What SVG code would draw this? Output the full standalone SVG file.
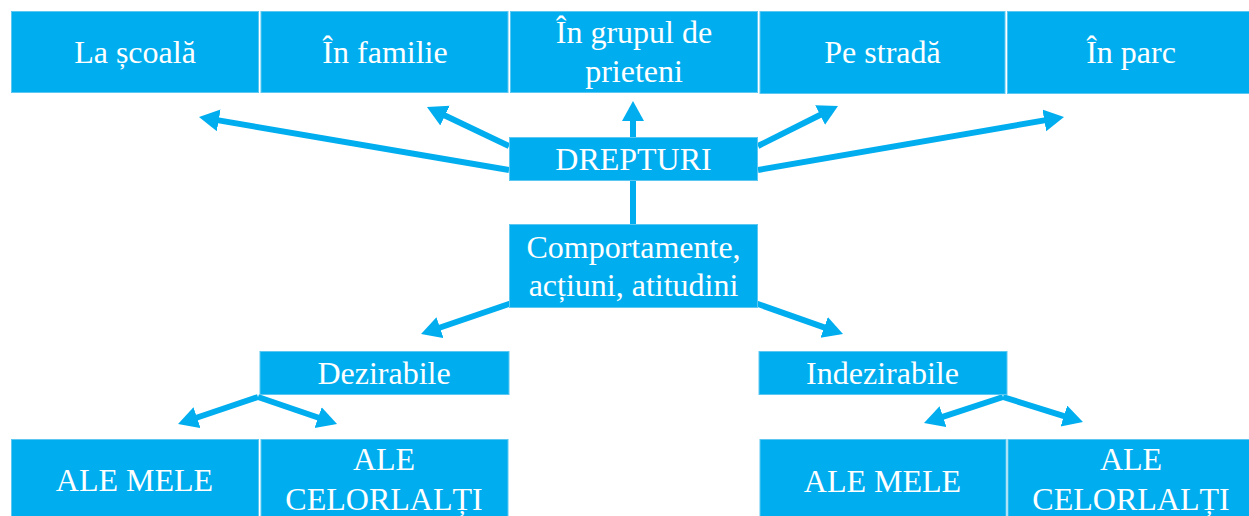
<svg xmlns="http://www.w3.org/2000/svg" width="1249" height="516" viewBox="0 0 1249 516">
<style>
.box{fill:#00AEEF;stroke:#5CC8F2;stroke-width:1}
.t{fill:#FFFFFF;font-family:"Liberation Serif","Times New Roman",serif;font-size:32px;text-anchor:middle}
.c{fill:none;stroke:#00AEEF;stroke-width:6;marker-end:url(#ah)}
.p{fill:none;stroke:#00AEEF;stroke-width:6}
</style>
<defs>
<marker id="ah" markerUnits="userSpaceOnUse" markerWidth="22" markerHeight="24" refX="6" refY="11" orient="auto" viewBox="0 0 22 24">
<path d="M0,0 L20,11 L0,22 z" fill="#00AEEF"/>
</marker>
</defs>
<rect width="1249" height="516" fill="#FFFFFF"/>
<g id="connectors">
<path class="c" d="M509,170 L212.8,119.4"/>
<path class="c" d="M509,146 L439.6,113"/>
<path class="c" d="M633,224 L633,115"/>
<path class="c" d="M758,146 L825.5,112.3"/>
<path class="c" d="M758,170 L1050.2,119.4"/>
<path class="c" d="M512,303 L434.3,329.5"/>
<path class="c" d="M755,303 L829.8,329.4"/>
<path class="c" d="M258,397 L191.3,419.5"/>
<path class="c" d="M258,397 L323.8,419.5"/>
<path class="c" d="M1003,397 L937.3,418.6"/>
<path class="c" d="M1003,397 L1069.6,417.8"/>
</g>
<g id="n-scoala"><rect class="box" x="11.5" y="11.5" width="247" height="81"/><text class="t" x="135" y="63">La școală</text></g>
<g id="n-familie"><rect class="box" x="261" y="11.5" width="247" height="81"/><text class="t" x="385" y="63">În familie</text></g>
<g id="n-grup"><rect class="box" x="510.5" y="11.5" width="247" height="81"/><text class="t" x="634" y="43">În grupul de</text><text class="t" x="634" y="82">prieteni</text></g>
<g id="n-strada"><rect class="box" x="760" y="11.5" width="245" height="82"/><text class="t" x="882.5" y="63">Pe stradă</text></g>
<g id="n-parc"><rect class="box" x="1007.5" y="11.5" width="247" height="82"/><text class="t" x="1131" y="63">În parc</text></g>
<g id="n-drepturi"><rect class="box" x="509.5" y="137.5" width="248" height="43"/><text class="t" x="633.5" y="170">DREPTURI</text></g>
<g id="n-comport"><rect class="box" x="509.5" y="224.5" width="248" height="83"/><text class="t" x="633.5" y="257.5">Comportamente,</text><text class="t" x="633.5" y="295.5">acțiuni, atitudini</text></g>
<g id="n-dezirabile"><rect class="box" x="260" y="351.5" width="249" height="43"/><text class="t" x="384" y="384">Dezirabile</text></g>
<g id="n-indezirabile"><rect class="box" x="759" y="351.5" width="248" height="43"/><text class="t" x="882.5" y="384">Indezirabile</text></g>
<g id="n-mele-l"><rect class="box" x="11.5" y="439.5" width="247" height="90"/><text class="t" x="134.5" y="491">ALE MELE</text></g>
<g id="n-celor-l"><rect class="box" x="261" y="439.5" width="247" height="90"/><text class="t" x="384" y="470">ALE</text><text class="t" x="384" y="510">CELORLALȚI</text></g>
<g id="n-mele-r"><rect class="box" x="760" y="439.5" width="246" height="90"/><text class="t" x="882.5" y="491.5">ALE MELE</text></g>
<g id="n-celor-r"><rect class="box" x="1008" y="439.5" width="247" height="90"/><text class="t" x="1131" y="470">ALE</text><text class="t" x="1131" y="510">CELORLALȚI</text></g>
</svg>
